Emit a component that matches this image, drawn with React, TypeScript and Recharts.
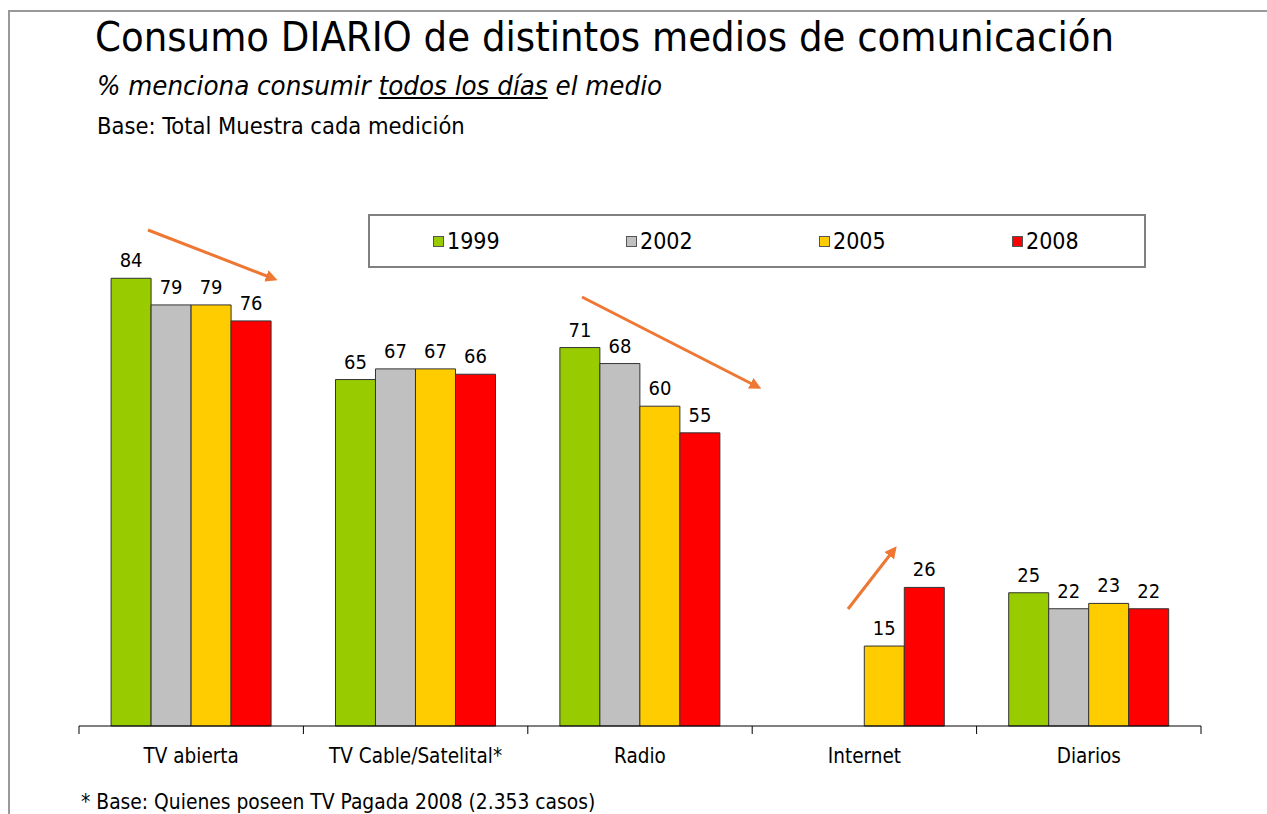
import React from 'react';
import { BarChart, Bar, XAxis, YAxis, LabelList, Legend } from 'recharts';

// media categories and the share (%) consuming each one every day
const categories = ['TV abierta', 'TV Cable/Satelital*', 'Radio', 'Internet', 'Diarios'];
const y1999 = [84, 65, 71, null, 25];
const y2002 = [79, 67, 68, null, 22];
const y2005 = [79, 67, 60, 15, 23];
const y2008 = [76, 66, 55, 26, 22];

const years = ['1999', '2002', '2005', '2008'];
const colors = ['#99CC00', '#C0C0C0', '#FFCC00', '#FF0000'];

const data = categories.map((name, i) => ({
  name,
  '1999': y1999[i],
  '2002': y2002[i],
  '2005': y2005[i],
  '2008': y2008[i],
}));

const FONT = "Tahoma, 'DejaVu Sans Condensed', 'DejaVu Sans', sans-serif";
const W = 1267;
const H = 814;
const MARGIN = { top: 193, right: 66, left: 79, bottom: 48 };
const BAND = (W - MARGIN.left - MARGIN.right) / categories.length;

const CategoryTick = (props: any) => {
  const { x, y, payload, index } = props;
  const isLast = index === categories.length - 1;
  return (
    <g>
      <line x1={x - BAND / 2} x2={x - BAND / 2} y1={y} y2={y + 8} stroke="#000" />
      {isLast && <line x1={x + BAND / 2} x2={x + BAND / 2} y1={y} y2={y + 8} stroke="#000" />}
      <text x={x} y={y + 37} textAnchor="middle" fontFamily={FONT} fontSize={20.5} fill="#000">
        {payload.value}
      </text>
    </g>
  );
};

const LegendBox = (props: any) => {
  const { payload } = props;
  return (
    <div
      style={{
        boxSizing: 'border-box',
        width: 778,
        height: 54,
        border: '2px solid #808080',
        background: '#fff',
        fontFamily: FONT,
        fontSize: 23,
        color: '#000',
      }}
    >
      {(payload || []).map((p: any, i: number) => (
        <div
          key={p.value}
          style={{ position: 'absolute', left: 65 + i * 193, top: 15, display: 'flex', alignItems: 'center' }}
        >
          <span
            style={{
              display: 'inline-block',
              width: 9,
              height: 9,
              background: p.color,
              border: '1px solid #555',
              marginRight: 3,
            }}
          />
          <span style={{ lineHeight: '24px' }}>{p.value}</span>
        </div>
      ))}
    </div>
  );
};

const Arrow = ({ x1, y1, x2, y2 }: { x1: number; y1: number; x2: number; y2: number }) => (
  <line x1={x1} y1={y1} x2={x2} y2={y2} stroke="#EE7733" strokeWidth={3} markerEnd="url(#arrowHead)" />
);

const App = () => {
  return (
    <div style={{ position: 'absolute', left: 0, top: 0, width: W, height: H, background: '#fff', overflow: 'hidden' }}>
      {/* slide frame */}
      <div style={{ position: 'absolute', left: 8, top: 10, right: 0, bottom: 0, borderTop: '2px solid #999', borderLeft: '2px solid #999' }} />

      <div style={{ position: 'absolute', left: 95, top: 17, fontFamily: FONT, fontSize: 41.3, lineHeight: 1, whiteSpace: 'nowrap' }}>
        Consumo DIARIO de distintos medios de comunicación
      </div>
      <div style={{ position: 'absolute', left: 97, top: 72, fontFamily: FONT, fontSize: 27.4, fontStyle: 'italic', lineHeight: 1, whiteSpace: 'nowrap' }}>
        % menciona consumir <span style={{ textDecoration: 'underline' }}>todos los días</span> el medio
      </div>
      <div style={{ position: 'absolute', left: 97, top: 115, fontFamily: FONT, fontSize: 23.5, lineHeight: 1, whiteSpace: 'nowrap' }}>
        Base: Total Muestra cada medición
      </div>

      <div style={{ position: 'absolute', left: 0, top: 0 }}>
        <BarChart width={W} height={H} data={data} margin={MARGIN} barCategoryGap="14.3%" barGap={0}>
          <XAxis
            dataKey="name"
            height={40}
            interval={0}
            tickLine={false}
            tickSize={0}
            tickMargin={0}
            axisLine={{ stroke: '#000' }}
            tick={<CategoryTick />}
          />
          <YAxis hide domain={[0, 100]} />
          <Legend
            layout="horizontal"
            verticalAlign="middle"
            align="center"
            content={<LegendBox />}
            wrapperStyle={{ left: 368, top: 214, width: 778 }}
          />
          {years.map((yr, i) => (
            <Bar key={yr} dataKey={yr} fill={colors[i]} stroke="#333" strokeWidth={1} isAnimationActive={false}>
              <LabelList dataKey={yr} position="top" offset={11} fontFamily={FONT} fontSize={20} fill="#000" />
            </Bar>
          ))}
        </BarChart>
      </div>

      {/* trend arrows */}
      <svg width={W} height={H} style={{ position: 'absolute', left: 0, top: 0, pointerEvents: 'none' }}>
        <defs>
          <marker id="arrowHead" markerWidth="4" markerHeight="4" refX="2" refY="2" orient="auto">
            <path d="M0,0 L4,2 L0,4 Z" fill="#EE7733" />
          </marker>
        </defs>
        <Arrow x1={148} y1={230} x2={272} y2={278} />
        <Arrow x1={582} y1={297} x2={756} y2={386} />
        <Arrow x1={848} y1={609} x2={893} y2={551} />
      </svg>

      <div style={{ position: 'absolute', left: 81, top: 792, fontFamily: FONT, fontSize: 20.8, lineHeight: 1, whiteSpace: 'nowrap' }}>
        * Base: Quienes poseen TV Pagada 2008 (2.353 casos)
      </div>
    </div>
  );
};

export default App;
